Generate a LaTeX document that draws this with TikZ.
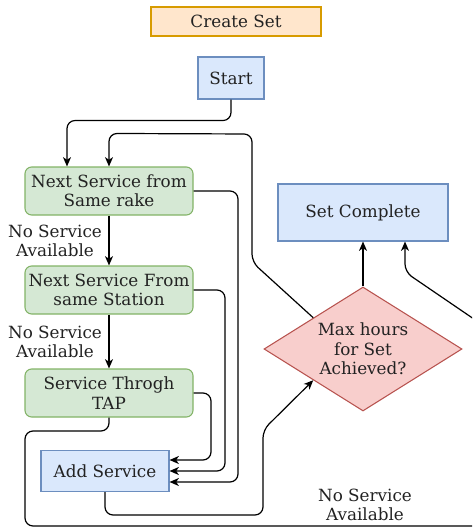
\documentclass[tikz,border=0pt]{standalone}
\usepackage{fontspec}
\setmainfont{DejaVu Serif}
\usepackage{tikz}
\usetikzlibrary{calc,shapes.geometric,arrows.meta}

\definecolor{bluefill}{HTML}{DAE8FC}
\definecolor{blueline}{HTML}{6C8EBF}
\definecolor{greenfill}{HTML}{D5E8D4}
\definecolor{greenline}{HTML}{82B366}
\definecolor{redfill}{HTML}{F8CECC}
\definecolor{redline}{HTML}{B85450}
\definecolor{orangefill}{HTML}{FFE6CC}
\definecolor{orangeline}{HTML}{D79B00}
\definecolor{txt}{HTML}{222222}

\begin{document}
\begin{tikzpicture}[x=0.75pt,y=-0.75pt,
    every node/.style={font=\fontsize{12.6}{14.6}\selectfont,text=txt,align=center},
    bluebox/.style={draw=blueline,fill=bluefill,line width=0.8pt,inner sep=0pt},
    greenbox/.style={draw=greenline,fill=greenfill,line width=0.8pt,rounded corners=5pt,
      minimum width=168*0.75pt,minimum height=48*0.75pt,inner sep=0pt},
    arr/.style={draw,line width=0.9pt,rounded corners=6pt,-{Stealth[length=7pt,width=6pt,inset=2pt]}}]
    \clip (0,0) rectangle (472,528);

    \node[draw=orangeline,fill=orangefill,line width=0.8pt,minimum width=170*0.75pt,
      minimum height=29*0.75pt,inner sep=0pt] (create) at (236,21.5) {Create Set};
    \node[bluebox,minimum width=66*0.75pt,minimum height=42*0.75pt] (start) at (231,78) {Start};
    \node[greenbox] (rake) at (109,191) {Next Service from\\Same rake};
    \node[greenbox] (station) at (109,290) {Next Service From\\same Station};
    \node[greenbox] (tap) at (109,393) {Service Throgh\\TAP};
    \node[bluebox,minimum width=128*0.75pt,minimum height=41*0.75pt] (add) at (105,471) {Add Service};
    \node[bluebox,minimum width=170*0.75pt,minimum height=57*0.75pt] (complete) at (363,212.5) {Set Complete};
    \node[diamond,aspect=1.6,draw=redline,fill=redfill,line width=0.8pt,inner sep=0pt,
      minimum width=198*0.75pt,minimum height=124*0.75pt] (maxh) at (363,349) {Max hours\\for Set\\Achieved?};

    \node (nosrv1) at (55,241) {No Service\\Available};
    \node (nosrv2) at (55,342) {No Service\\Available};
    \node (nosrv3) at (365,505) {No Service\\Available};

    % main flow
    \draw[arr] (start.south) -- ++(0,21) -| ($(rake.north)+(-42,0)$);
    \draw[arr] (rake) -- (station);
    \draw[arr] (station) -- (tap);
    \draw[arr] (maxh.north) -- (complete.south);

    % found a service
    \draw[arr] (rake.east) -| (238,482) -- ($(add.east)+(0,11)$);
    \draw[arr] (station.east) -| (225,471) -- (add.east);
    \draw[arr] (tap.east) -| (211,460) -- ($(add.east)+(0,-11)$);

    % check hours
    \draw[arr] (add.south) |- (263,515) -- (263,430) -- (maxh.south west);
    \draw[arr] (maxh.north west) -- (252,262) -- (252,134) -- ($(rake.north)+(0,-33)$) -- (rake.north);

    % no service left
    \draw[arr] (tap.south) -- (109,431) -- (25,431) -- (25,526) -- (490,526) -- (490,330)
      -- (405,272) -- ($(complete.south)+(42,0)$);
\end{tikzpicture}
\end{document}
